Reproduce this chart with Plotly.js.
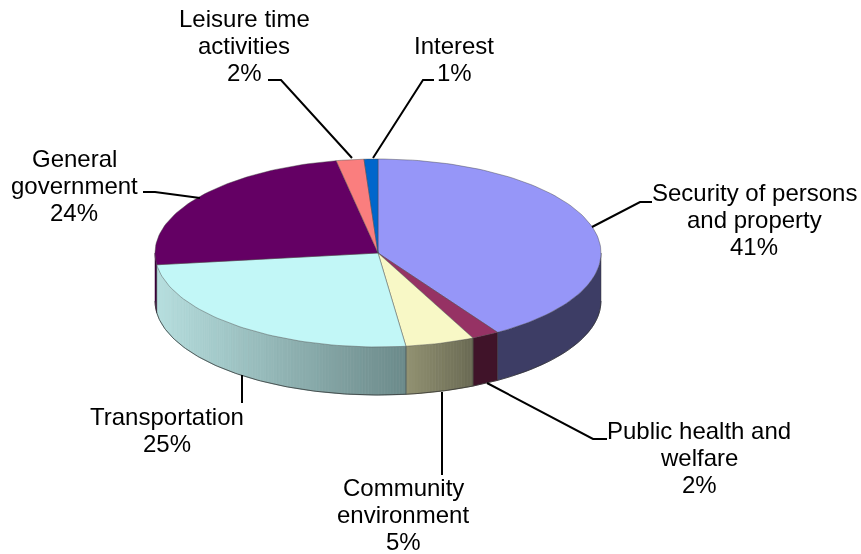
<!DOCTYPE html>
<html>
<head>
<meta charset="utf-8">
<script src="https://cdn.plot.ly/plotly-3.0.1.min.js"></script>
<style>
html,body{margin:0;padding:0;background:#fff}
#chart{width:861px;height:554px;filter:blur(0.5px)}
</style>
</head>
<body>
<div id="chart"></div>
<script>
// Data
const categories = ["Security of persons<br>and property","Public health and<br>welfare","Community<br>environment","Transportation","General<br>government","Leisure time<br>activities","Interest"];
const shares = [41,2,5,25,24,2,1];

// Styles
const topColors = ["#9696F8","#963264","#F8F8C6","#C2F7F7","#640064","#FA7E7E","#0066CC"];
const sideLeft  = [[61,61,101],[64,19,41],[146,146,114],[182,222,222],[58,0,58],[120,60,60],[0,50,100]];
const sideRight = [[61,61,101],[64,19,41],[106,106,84],[108,138,138],[58,0,58],[120,60,60],[0,50,100]];

// Pie geometry in page pixels
const cx=378, cy=253, rx=223, ry=94, depth=48;
const px=t=>cx+rx*Math.sin(t*Math.PI/180);
const py=t=>cy-ry*Math.cos(t*Math.PI/180);

// Label layout
const lineStep = 27;
const labelPos = [[754,219.5],[699,457],[403,514],[167,429.5],[74,185],[244,45],[454,58.5]];
const leaders = [
  [[592,227],[640,202],[652,202]],
  [[487,383],[593,439],[607,439]],
  [[442,392],[442,475]],
  [[242,375],[242,403]],
  [[200,198],[155,192],[143,192]],
  [[352,158],[281,80],[268,80]],
  [[373,158],[423,80],[434,80]]
];

const traces=[];
const total=shares.reduce((a,b)=>a+b,0);
let acc=0;
const arcs=shares.map(v=>{const a=acc/total*360;acc+=v;return [a,acc/total*360];});

// Side wall: front half only, shaded along x in thin strips
arcs.forEach(([a0,a1],i)=>{
  const s=Math.max(a0,90), e=Math.min(a1,270);
  if(e<=s) return;
  const same=sideLeft[i].join()===sideRight[i].join();
  const n=same?Math.ceil((e-s)/1.5):Math.ceil((e-s)/0.8);
  const xa=Math.min(px(s),px(e)), xb=Math.max(px(s),px(e));
  if(same){
    const col=`rgb(${sideLeft[i].join(",")})`;
    const xs=[],ys=[];
    for(let k=0;k<=n;k++){const t=s+(e-s)*k/n;xs.push(px(t));ys.push(py(t));}
    for(let k=n;k>=0;k--){const t=s+(e-s)*k/n;xs.push(px(t));ys.push(py(t)+depth);}
    traces.push({type:"scatter",mode:"lines",hoverinfo:"skip",showlegend:false,fill:"toself",fillcolor:col,line:{color:col,width:0.5},x:xs,y:ys});
  } else {
    for(let k=0;k<n;k++){
      const t0=s+(e-s)*k/n, t1=s+(e-s)*(k+1)/n;
      const f=((px(t0)+px(t1))/2-xa)/(xb-xa||1);
      const c=sideLeft[i].map((l,j)=>Math.round(l+(sideRight[i][j]-l)*f));
      const col=`rgb(${c.join(",")})`;
      traces.push({type:"scatter",mode:"lines",hoverinfo:"skip",showlegend:false,fill:"toself",fillcolor:col,
        line:{color:col,width:0.8},
        x:[px(t0),px(t1),px(t1),px(t0),px(t0)],
        y:[py(t0),py(t1),py(t1)+depth,py(t0)+depth,py(t0)]});
    }
  }
  const bx=[],by=[];
  for(let k=0;k<=n;k++){const t=s+(e-s)*k/n;bx.push(px(t));by.push(py(t)+depth);}
  traces.push({type:"scatter",mode:"lines",hoverinfo:"skip",showlegend:false,line:{color:"rgba(50,50,50,0.75)",width:1},x:bx,y:by});
  traces.push({type:"scatter",mode:"lines",hoverinfo:"skip",showlegend:false,line:{color:"rgba(50,50,50,0.6)",width:0.8},
    x:[px(s),px(s)],y:[py(s),py(s)+depth]});
});

// Top face wedges
arcs.forEach(([a0,a1],i)=>{
  const xs=[cx],ys=[cy];
  const n=Math.max(4,Math.ceil((a1-a0)/1.5));
  for(let k=0;k<=n;k++){const t=a0+(a1-a0)*k/n;xs.push(px(t));ys.push(py(t));}
  xs.push(cx);ys.push(cy);
  traces.push({type:"scatter",mode:"lines",name:categories[i].replace("<br>"," "),hoverinfo:"name",showlegend:false,
    fill:"toself",fillcolor:topColors[i],line:{color:"rgba(70,70,70,0.55)",width:0.8},x:xs,y:ys});
});

// Leader lines
leaders.forEach(p=>traces.push({type:"scatter",mode:"lines",hoverinfo:"skip",showlegend:false,
  line:{color:"#000",width:2},x:p.map(q=>q[0]),y:p.map(q=>q[1])}));

// Labels: one annotation per line so the line spacing can be tighter than Plotly's default
const annotations=[];
categories.forEach((c,i)=>{
  const lines=c.split("<br>").concat(shares[i]+"%");
  lines.forEach((t,k)=>annotations.push({
    x:labelPos[i][0],y:labelPos[i][1]+(k-(lines.length-1)/2)*lineStep,xref:"x",yref:"y",showarrow:false,
    xanchor:"center",yanchor:"middle",align:"center",text:t,
    font:{family:"Liberation Sans, Arial, sans-serif",size:24,color:"#000"}
  }));
});

Plotly.newPlot("chart",traces,{
  width:861,height:554,margin:{l:0,r:0,t:0,b:0,pad:0},
  paper_bgcolor:"#fff",plot_bgcolor:"#fff",showlegend:false,
  xaxis:{range:[0,861],visible:false,fixedrange:true},
  yaxis:{range:[554,0],visible:false,fixedrange:true},
  annotations
},{displayModeBar:false,staticPlot:true});
</script>
</body>
</html>
